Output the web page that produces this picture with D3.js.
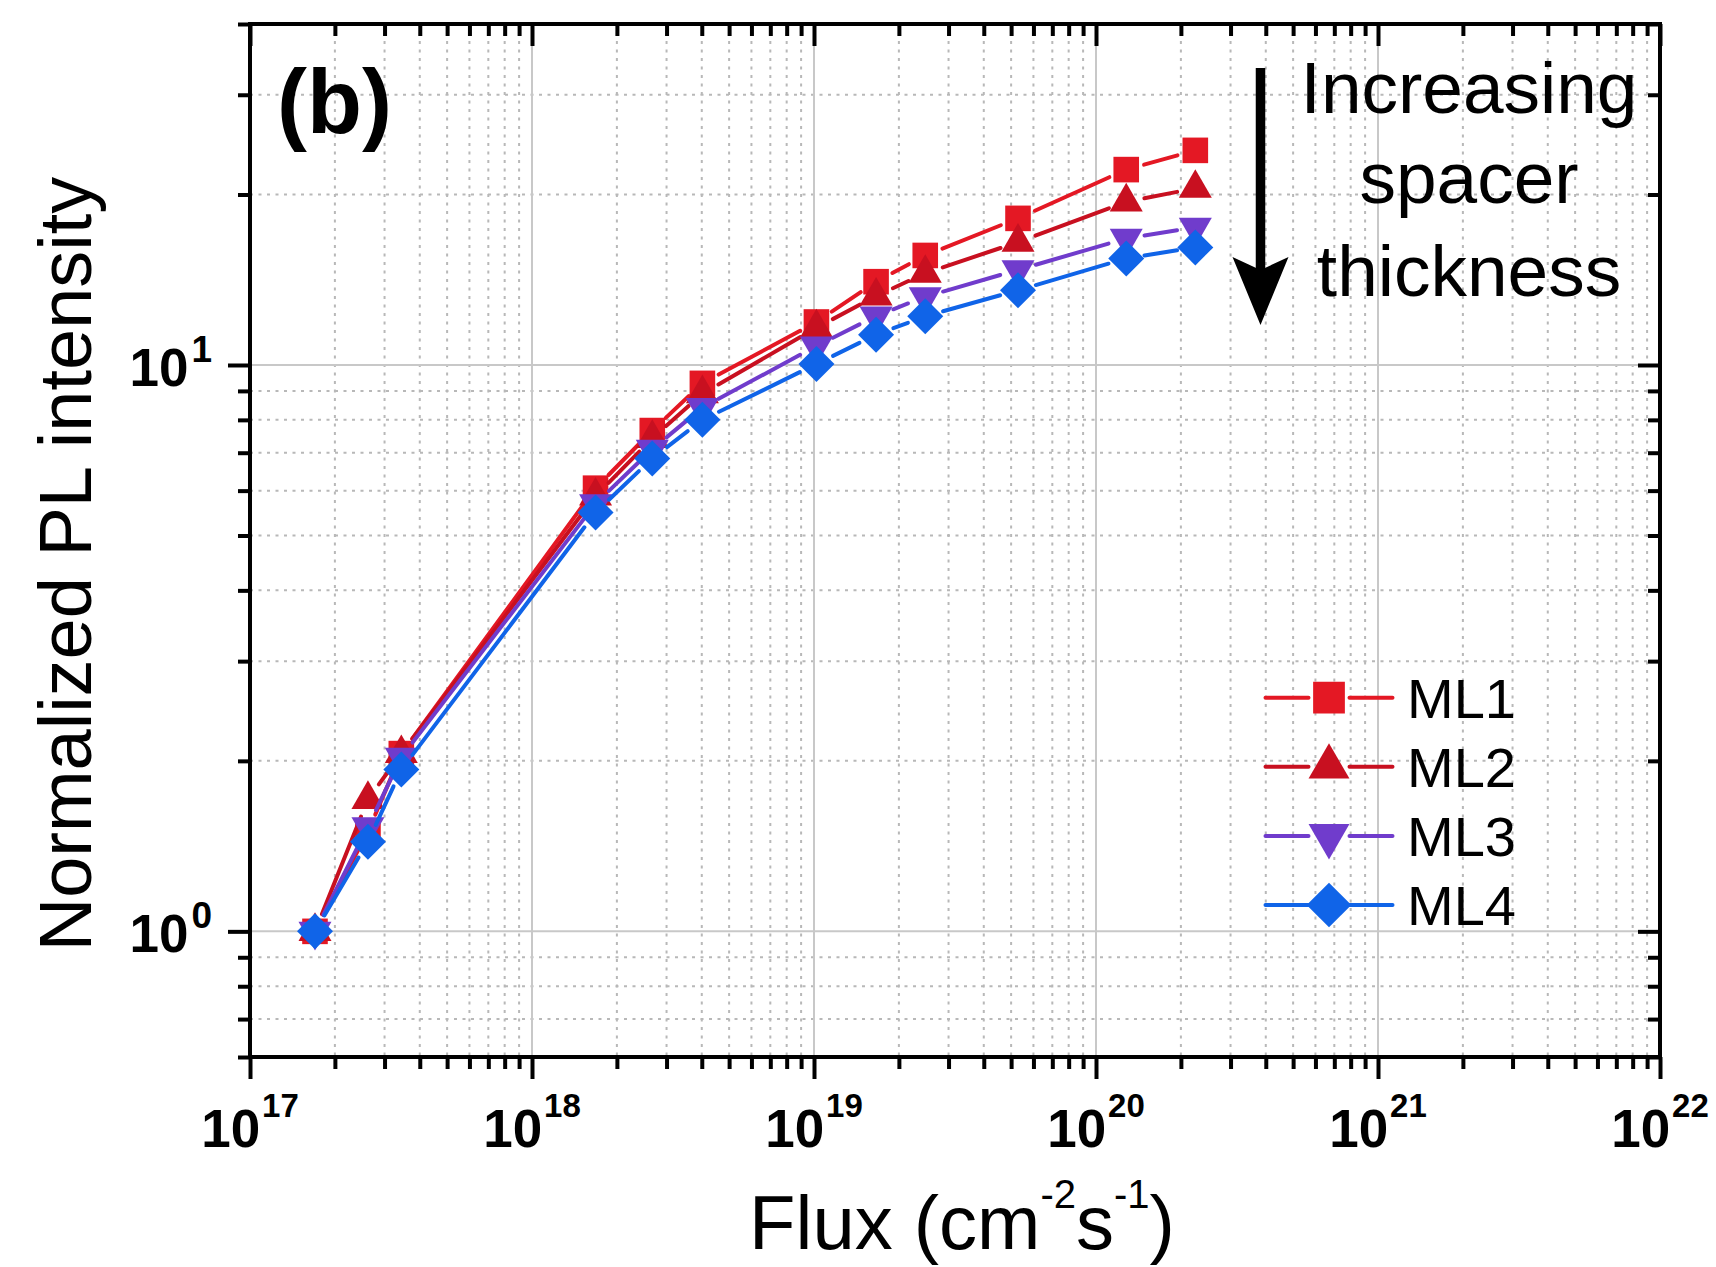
<!DOCTYPE html>
<html>
<head>
<meta charset="utf-8">
<script src="https://cdn.jsdelivr.net/npm/d3@7"></script>
<style>
  html, body { margin: 0; padding: 0; background: #fff; }
  svg { display: block; font-family: "Liberation Sans", Arial, Helvetica, sans-serif; }
</style>
</head>
<body>
<svg id="chart" width="1716" height="1267"></svg>
<script>
// Excitation flux (cm^-2 s^-1)
const flux = [1.70e17, 2.62e17, 3.44e17, 1.68e18, 2.67e18, 4.02e18,
              1.02e19, 1.66e19, 2.48e19, 5.29e19, 1.28e20, 2.25e20];

// Normalized PL intensity per sample
const ml1 = [1.00, 1.50, 2.06, 6.06, 7.66, 9.28, 11.91, 14.03, 15.61, 18.15, 22.13, 23.93];
const ml2 = [1.00, 1.71, 2.06, 5.87, 7.42, 8.90, 11.63, 13.24, 14.52, 16.48, 19.41, 20.51];
const ml3 = [1.00, 1.53, 2.03, 5.69, 7.10, 8.41, 10.80, 12.20, 13.20, 14.72, 16.73, 17.50];
const ml4 = [1.00, 1.44, 1.93, 5.49, 6.84, 8.00, 10.04, 11.31, 12.19, 13.55, 15.42, 16.13];

const seriesNames   = ["ML1", "ML2", "ML3", "ML4"];
const seriesValues  = [ml1, ml2, ml3, ml4];
const seriesColors  = ["#E41824", "#C81020", "#703CCC", "#1064E8"];
const seriesSymbols = ["square", "triangle-up", "triangle-down", "diamond"];

// Axis ticks
const xMajorTicks = [1e17, 1e18, 1e19, 1e20, 1e21, 1e22];
const xTickExponents = ["17", "18", "19", "20", "21", "22"];
const yMajorTicks = [1, 10];
const yTickExponents = ["0", "1"];
const xDomain = [1e17, 1e22];
const yDomain = [0.6, 40];

const annotationLines = ["Increasing", "spacer", "thickness"];
const panelLabel = "(b)";

// ---- layout ----
const L = 250, R = 1660, T = 24, B = 1057;
const svg = d3.select("#chart");
svg.append("rect").attr("width", 1716).attr("height", 1267).attr("fill", "#fff");

const x = d3.scaleLog().domain(xDomain).range([L, R]);
const y = d3.scaleLog().domain(yDomain).range([B, T]);

// minor tick positions: 2..9 within each decade
const xMinor = [];
for (let e = 17; e < 22; e++) for (let k = 2; k <= 9; k++) xMinor.push(k * Math.pow(10, e));
const yMinor = [0.6, 0.7, 0.8, 0.9, 2, 3, 4, 5, 6, 7, 8, 9, 20, 30, 40];
const yMinorGrid = yMinor.filter(v => v > yDomain[0] && v < yDomain[1]);

// ---- grid ----
const grid = svg.append("g");
grid.selectAll(".vminor").data(xMinor).join("line")
  .attr("x1", d => x(d)).attr("x2", d => x(d)).attr("y1", T).attr("y2", B)
  .attr("stroke", "#b8b8b8").attr("stroke-width", 2).attr("stroke-dasharray", "3,5.5");
grid.selectAll(".hminor").data(yMinorGrid).join("line")
  .attr("y1", d => y(d)).attr("y2", d => y(d)).attr("x1", L).attr("x2", R)
  .attr("stroke", "#b8b8b8").attr("stroke-width", 2).attr("stroke-dasharray", "3,5.5");
grid.selectAll(".vmajor").data(xMajorTicks.slice(1, -1)).join("line")
  .attr("x1", d => x(d)).attr("x2", d => x(d)).attr("y1", T).attr("y2", B)
  .attr("stroke", "#c8c8c8").attr("stroke-width", 2);
grid.selectAll(".hmajor").data(yMajorTicks).join("line")
  .attr("y1", d => y(d)).attr("y2", d => y(d)).attr("x1", L).attr("x2", R)
  .attr("stroke", "#c8c8c8").attr("stroke-width", 2);

// ---- axes (ticks only; frame drawn separately) ----
function styleAxis(g) {
  g.select(".domain").remove();
  g.selectAll(".tick line").attr("stroke", "#000").attr("stroke-width", 4);
}
const MAJ = 22, MIN = 12;
svg.append("g").attr("transform", `translate(0,${B})`)
  .call(d3.axisBottom(x).tickValues(xMinor).tickSize(MIN).tickFormat("")).call(styleAxis);
svg.append("g").attr("transform", `translate(0,${B})`)
  .call(d3.axisBottom(x).tickValues(xMajorTicks).tickSize(MAJ).tickFormat("")).call(styleAxis);
svg.append("g").attr("transform", `translate(0,${T})`)
  .call(d3.axisTop(x).tickValues(xMinor).tickSize(-MIN).tickFormat("")).call(styleAxis);
svg.append("g").attr("transform", `translate(0,${T})`)
  .call(d3.axisTop(x).tickValues(xMajorTicks).tickSize(-MAJ).tickFormat("")).call(styleAxis);
svg.append("g").attr("transform", `translate(${L},0)`)
  .call(d3.axisLeft(y).tickValues(yMinor).tickSize(MIN).tickFormat("")).call(styleAxis);
svg.append("g").attr("transform", `translate(${L},0)`)
  .call(d3.axisLeft(y).tickValues(yMajorTicks).tickSize(MAJ).tickFormat("")).call(styleAxis);
svg.append("g").attr("transform", `translate(${R},0)`)
  .call(d3.axisRight(y).tickValues(yMinor).tickSize(-MIN).tickFormat("")).call(styleAxis);
svg.append("g").attr("transform", `translate(${R},0)`)
  .call(d3.axisRight(y).tickValues(yMajorTicks).tickSize(-MAJ).tickFormat("")).call(styleAxis);

svg.append("rect").attr("x", L).attr("y", T).attr("width", R - L).attr("height", B - T)
  .attr("fill", "none").attr("stroke", "#000").attr("stroke-width", 4);

// ---- tick labels (10 with superscript exponent) ----
const xl = svg.append("g").attr("font-weight", "bold").attr("fill", "#000");
xMajorTicks.forEach((v, i) => {
  const t = xl.append("text").attr("x", x(v)).attr("y", B + 90).attr("text-anchor", "middle");
  t.append("tspan").attr("font-size", 53).text("10");
  t.append("tspan").attr("font-size", 33).attr("dx", 2).attr("dy", -30).text(xTickExponents[i]);
});
const yl = svg.append("g").attr("font-weight", "bold").attr("fill", "#000");
yMajorTicks.forEach((v, i) => {
  const t = yl.append("text").attr("x", 212).attr("y", y(v) + 21).attr("text-anchor", "end");
  t.append("tspan").attr("font-size", 53).text("10");
  t.append("tspan").attr("font-size", 37).attr("dx", 3).attr("dy", -24).text(yTickExponents[i]);
});

// ---- axis titles ----
const xt = svg.append("text").attr("x", 962).attr("y", 1249).attr("text-anchor", "middle").attr("font-size", 76);
xt.append("tspan").text("Flux (cm");
xt.append("tspan").attr("font-size", 40).attr("dy", -41).text("-2");
xt.append("tspan").attr("dy", 41).text("s");
xt.append("tspan").attr("font-size", 40).attr("dy", -41).text("-1");
xt.append("tspan").attr("dy", 41).text(")");

svg.append("text").attr("transform", "translate(91,564) rotate(-90)")
  .attr("text-anchor", "middle").attr("font-size", 74).text("Normalized PL intensity");

// ---- markers ----
function symbolPath(type, k) {
  if (type === "square") { const s = 12.8 * k; return `M${-s},${-s}H${s}V${s}H${-s}Z`; }
  if (type === "triangle-up") { const w = 16.5 * k, h = 28.6 * k; return `M0,${-2 * h / 3}L${w},${h / 3}L${-w},${h / 3}Z`; }
  if (type === "triangle-down") { const w = 16.5 * k, h = 28.6 * k; return `M0,${2 * h / 3}L${w},${-h / 3}L${-w},${-h / 3}Z`; }
  const d = 18 * k; return `M0,${-d}L${d},0L0,${d}L${-d},0Z`;
}

// ---- series: connecting segments with a gap around each symbol, then symbols ----
const GAP = 18.5;
const plot = svg.append("g");
seriesValues.forEach((vals, si) => {
  const pts = vals.map((v, i) => [x(flux[i]), y(v)]);
  const segs = [];
  for (let i = 0; i < pts.length - 1; i++) {
    const [x0, y0] = pts[i], [x1, y1] = pts[i + 1];
    const len = Math.hypot(x1 - x0, y1 - y0);
    if (len <= 2 * GAP) continue;
    const ux = (x1 - x0) / len, uy = (y1 - y0) / len;
    segs.push([x0 + ux * GAP, y0 + uy * GAP, x1 - ux * GAP, y1 - uy * GAP]);
  }
  const g = plot.append("g");
  g.selectAll("line").data(segs).join("line")
    .attr("x1", d => d[0]).attr("y1", d => d[1]).attr("x2", d => d[2]).attr("y2", d => d[3])
    .attr("stroke", seriesColors[si]).attr("stroke-width", 4).attr("stroke-linecap", "round");
  g.selectAll("path").data(pts).join("path")
    .attr("transform", d => `translate(${d[0]},${d[1]})`)
    .attr("d", symbolPath(seriesSymbols[si], 1))
    .attr("fill", seriesColors[si]);
});

// ---- legend ----
const legend = svg.append("g");
const legX = 1329, legY0 = 697.7, legDY = 69.1;
seriesNames.forEach((name, si) => {
  const cy = legY0 + si * legDY;
  const g = legend.append("g");
  [[legX - 63.5, legX - 20.5], [legX + 20.5, legX + 63.5]].forEach(([a, b]) => {
    g.append("line").attr("x1", a).attr("x2", b).attr("y1", cy).attr("y2", cy)
      .attr("stroke", seriesColors[si]).attr("stroke-width", 4).attr("stroke-linecap", "round");
  });
  g.append("path").attr("transform", `translate(${legX},${cy})`)
    .attr("d", symbolPath(seriesSymbols[si], 1.24)).attr("fill", seriesColors[si]);
  g.append("text").attr("x", 1407).attr("y", cy + 20.3).attr("font-size", 56).text(name);
});

// ---- annotations ----
svg.append("text").attr("x", 277).attr("y", 133).attr("font-size", 90).attr("font-weight", "bold").text(panelLabel);

const ann = svg.append("g").attr("font-size", 73).attr("text-anchor", "middle");
[112.7, 203, 296].forEach((by, i) => {
  ann.append("text").attr("x", 1469).attr("y", by).text(annotationLines[i]);
});

// downward arrow
const ax = 1260.5;
svg.append("rect").attr("x", ax - 4.75).attr("y", 68).attr("width", 9.5).attr("height", 205).attr("fill", "#000");
svg.append("path")
  .attr("d", `M${ax - 28},257 L${ax},325 L${ax + 28},257 L${ax},270 Z`)
  .attr("fill", "#000");
</script>
</body>
</html>
